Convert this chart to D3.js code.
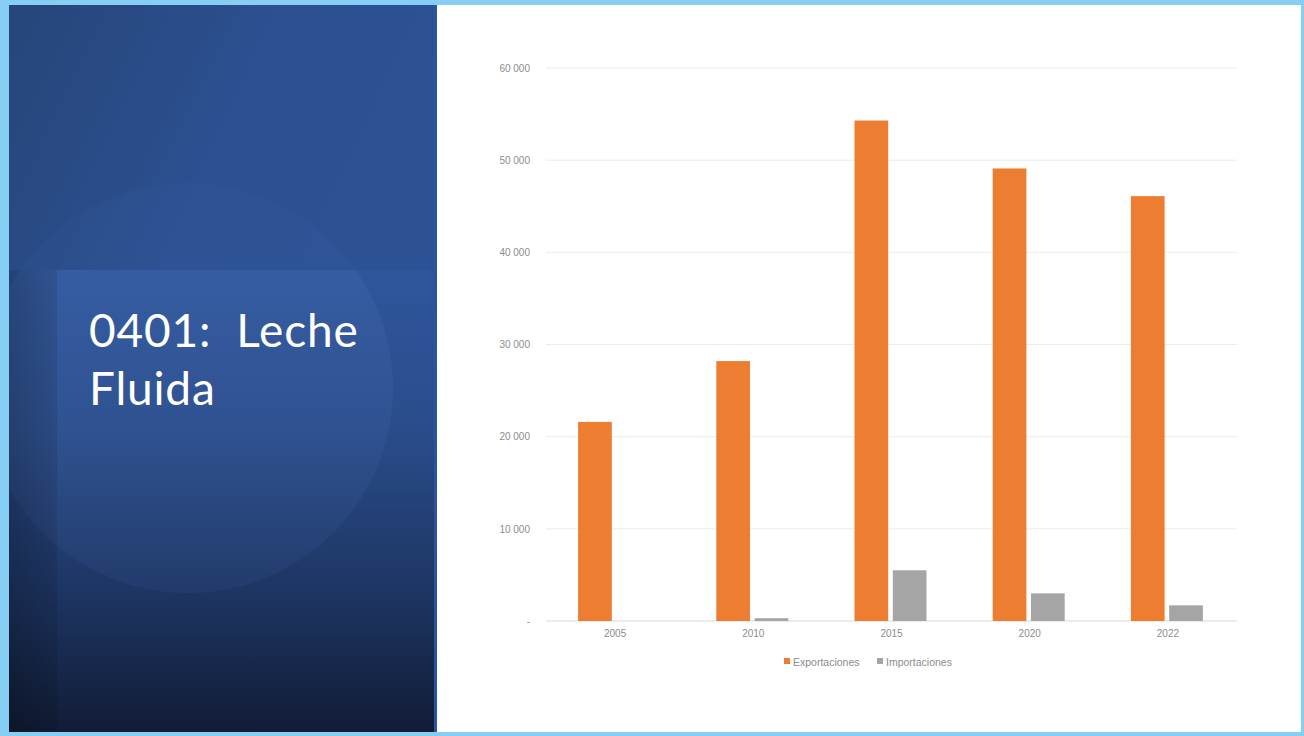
<!DOCTYPE html>
<html><head><meta charset="utf-8">
<script src="https://cdn.jsdelivr.net/npm/d3@7"></script>
<style>html,body{margin:0;padding:0;background:#86CEF3;overflow:hidden}</style>
</head><body>
<svg id="c" width="1304" height="736"></svg>
<script>
const years = ["2005","2010","2015","2020","2022"];
const seriesNames = ["Exportaciones","Importaciones"];
const exportaciones = [21600, 28200, 54300, 49100, 46100];
const importaciones = [0, 300, 5500, 3000, 1700];
const yTicks = [0,10000,20000,30000,40000,50000,60000];
const titleLines = ["0401:  Leche","Fluida"];
const colors = ["#ED7D31","#A5A5A5"];

(function(){
const svg = d3.select("#c");
const defs = svg.append("defs");
function grad(id, x2, y2, stops){
  const l = defs.append("linearGradient").attr("id",id).attr("x1",0).attr("y1",0).attr("x2",x2).attr("y2",y2);
  stops.forEach(s=>l.append("stop").attr("offset",s[0]).attr("stop-color",s[1]).attr("stop-opacity",s[2]===undefined?1:s[2]));
}
grad("topbg",1,0.3,[["0%","#26457A"],["60%","#2C5090"],["100%","#2C5294"]]);
grad("botbg",0,1,[["0%","#2F569C"],["35%","#2A4C8A"],["70%","#1D3563"],["100%","#111C36"]]);
grad("lft",1,0,[["0%","#000",0.24],["100%","#000",0.1]]);
grad("circ",0,1,[["0%","#6A90D6",0.12],["100%","#6A90D6",0.06]]);
defs.append("clipPath").attr("id","pc").append("rect").attr("x",9).attr("y",5).attr("width",428).attr("height",727);
defs.append("clipPath").attr("id","pcb").append("rect").attr("x",9).attr("y",270).attr("width",428).attr("height",462);
defs.append("clipPath").attr("id","pct").append("rect").attr("x",9).attr("y",5).attr("width",428).attr("height",265);

svg.append("rect").attr("x",0).attr("y",0).attr("width",1304).attr("height",736).attr("fill","#86CEF3");
svg.append("rect").attr("x",437).attr("y",5).attr("width",864).attr("height",727).attr("fill","#ffffff");
const panel = svg.append("g").attr("clip-path","url(#pc)");
panel.append("rect").attr("x",9).attr("y",5).attr("width",428).attr("height",265).attr("fill","url(#topbg)");
panel.append("rect").attr("x",9).attr("y",270).attr("width",428).attr("height",462).attr("fill","url(#botbg)");
panel.append("g").attr("clip-path","url(#pcb)").append("circle").attr("cx",188).attr("cy",388).attr("r",205).attr("fill","url(#circ)");
panel.append("g").attr("clip-path","url(#pct)").append("circle").attr("cx",188).attr("cy",388).attr("r",205).attr("fill","#6A90D6").attr("opacity",0.05);
panel.append("rect").attr("x",9).attr("y",270).attr("width",48).attr("height",462).attr("fill","url(#lft)");
panel.append("rect").attr("x",434).attr("y",5).attr("width",3).attr("height",727).attr("fill","#2A54A0");

const title = svg.append("text").attr("fill","#ffffff").attr("font-family","Lato, 'Open Sans', sans-serif")
  .attr("font-size",46).attr("letter-spacing",0.8);
titleLines.forEach((t,i)=>title.append("tspan").attr("x",89).attr("y",347+i*58).attr("xml:space","preserve").text(t));

const pLeft=546, pRight=1237, pTop=68, pBottom=621;
const x0 = d3.scaleBand().domain(years).range([pLeft,pRight]);
const x1 = d3.scaleBand().domain(seriesNames).range([-37,35]).paddingInner(0.12);
const y = d3.scaleLinear().domain([0,60000]).range([pBottom,pTop]);

const g = svg.append("g");
g.selectAll("line.grid").data(yTicks).join("line")
  .attr("x1",pLeft).attr("x2",pRight).attr("y1",d=>y(d)).attr("y2",d=>y(d))
  .attr("stroke",d=>d===0?"#d9d9d9":"#ececec").attr("stroke-width",1);

const font = "'Liberation Sans', Arial, sans-serif";
const yAxis = d3.axisLeft(y).tickValues(yTicks).tickSize(0).tickPadding(16)
  .tickFormat(d=> d===0 ? "-" : d3.format(",")(d).replace(/,/g," "));
const ya = g.append("g").attr("transform",`translate(${pLeft},0)`).call(yAxis);
ya.select(".domain").remove();
ya.selectAll("text").attr("fill","#8c8c8c").attr("font-size",10).attr("font-family",font);

const xAxis = d3.axisBottom(x0).tickSize(0).tickPadding(9);
const xa = g.append("g").attr("transform",`translate(0,${pBottom})`).call(xAxis);
xa.select(".domain").remove();
xa.selectAll("text").attr("fill","#8c8c8c").attr("font-size",10).attr("font-family",font);

const data = years.map((yr,i)=>({yr, vals:[exportaciones[i], importaciones[i]]}));
const grp = g.selectAll("g.yr").data(data).join("g").attr("transform",d=>`translate(${x0(d.yr)+x0.bandwidth()/2},0)`);
grp.selectAll("rect").data(d=>d.vals.map((v,j)=>({v, s:seriesNames[j], c:colors[j]}))).join("rect")
  .attr("x",d=>x1(d.s)).attr("width",x1.bandwidth())
  .attr("y",d=>y(d.v)).attr("height",d=>pBottom-y(d.v)).attr("fill",d=>d.c);

const leg = g.append("g").attr("transform","translate(784,662)");
const legX = [0, 93];
seriesNames.forEach((s,i)=>{
  const li = leg.append("g").attr("transform",`translate(${legX[i]},0)`);
  li.append("rect").attr("x",0).attr("y",-4).attr("width",6).attr("height",6).attr("fill",colors[i]);
  li.append("text").attr("x",9).attr("y",3.5).attr("fill","#8c8c8c").attr("font-size",10.5)
    .attr("font-family",font).text(s);
});
})();
</script>
</body></html>
